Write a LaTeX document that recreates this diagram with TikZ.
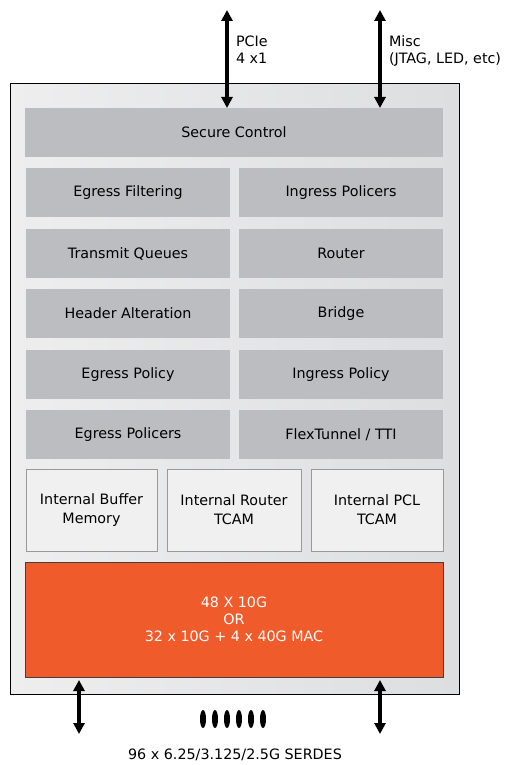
\documentclass[tikz,border=0pt]{standalone}
\usepackage{fontspec}
\setmainfont{DejaVu Sans}
\usetikzlibrary{arrows.meta}
\definecolor{blockgray}{RGB}{188,189,192}
\definecolor{chiplight}{RGB}{238,238,239}
\definecolor{chipdark}{RGB}{221,222,224}
\definecolor{memgray}{RGB}{240,240,241}
\definecolor{macorange}{RGB}{240,91,43}

\begin{document}
\begin{tikzpicture}[x=1pt, y=-1pt, node distance=0 cm, outer sep=0pt, font=\fontsize{14.3}{17}\selectfont]

\tikzstyle{block}=[fill=blockgray, minimum height=49pt, minimum width=204pt, anchor=north west, inner sep=0pt]
\tikzstyle{mem}=[draw=black!40, line width=1pt, fill=memgray, minimum height=82pt, anchor=north west, align=center, inner sep=0pt, font=\fontsize{14.3}{19}\selectfont]
\tikzstyle{bus}=[line width=4pt, {Triangle[width=11pt,length=11pt]}-{Triangle[width=11pt,length=11pt]}]

\useasboundingbox (0,0) rectangle (507,765);

\node[draw, line width=1pt, left color=chiplight, right color=chipdark, minimum width=449pt, minimum height=610pt, anchor=north west] (chip) at (10,84) {};

\node[block, minimum width=418pt] (sec) at (25,108) {Secure Control};
\node[block] (egfilt) at (26,168) {Egress Filtering}; \node[block] (ingpol) at (239,168) {Ingress Policers};
\node[block] (txq) at (26,229) {Transmit Queues}; \node[block] (router) at (239,229) {Router};
\node[block] (hdr) at (26,289) {Header Alteration}; \node[block] (bridge) at (239,289) {Bridge};
\node[block] (egpolicy) at (26,350) {Egress Policy}; \node[block] (ingpolicy) at (239,350) {Ingress Policy};
\node[block] (egpol) at (26,410) {Egress Policers}; \node[block] (tti) at (239,410) {FlexTunnel / TTI};

\node[mem, minimum width=131pt] (buf) at (26,469) {Internal Buffer\\Memory};
\node[mem, minimum width=134pt] (rtcam) at (167,469) {Internal Router\\TCAM};
\node[mem, minimum width=132pt] (pcl) at (311,469) {Internal PCL\\TCAM};

\node[draw=black!75, line width=1pt, fill=macorange, text=white, align=center, minimum width=418pt, minimum height=115pt, anchor=north west] (mac) at (25,562) {48 X 10G\\OR\\32 x 10G + 4 x 40G MAC};

% host side
\coordinate (pcie) at (227,10);
\coordinate (misc) at (380,10);
\draw[bus] (pcie) -- (pcie |- sec.north);
\draw[bus] (misc) -- (misc |- sec.north);
\node[anchor=north west, align=left, inner sep=0pt] (pcielbl) at (236,36) {PCIe\\4 x1};
\node[anchor=north west, align=left, inner sep=0pt] (misclbl) at (389,36) {Misc\\(JTAG, LED, etc)};

% serdes side
\coordinate (serdesa) at (79,734);
\coordinate (serdesb) at (380,734);
\draw[bus, shorten >=3pt] (serdesa) -- (serdesa |- mac.south);
\draw[bus, shorten >=3pt] (serdesb) -- (serdesb |- mac.south);
\foreach \x in {203,215,...,263} \fill (\x,719) ellipse (3 and 9);
\node (serdes) at (235,755) {96 x 6.25/3.125/2.5G SERDES};

\end{tikzpicture}
\end{document}
